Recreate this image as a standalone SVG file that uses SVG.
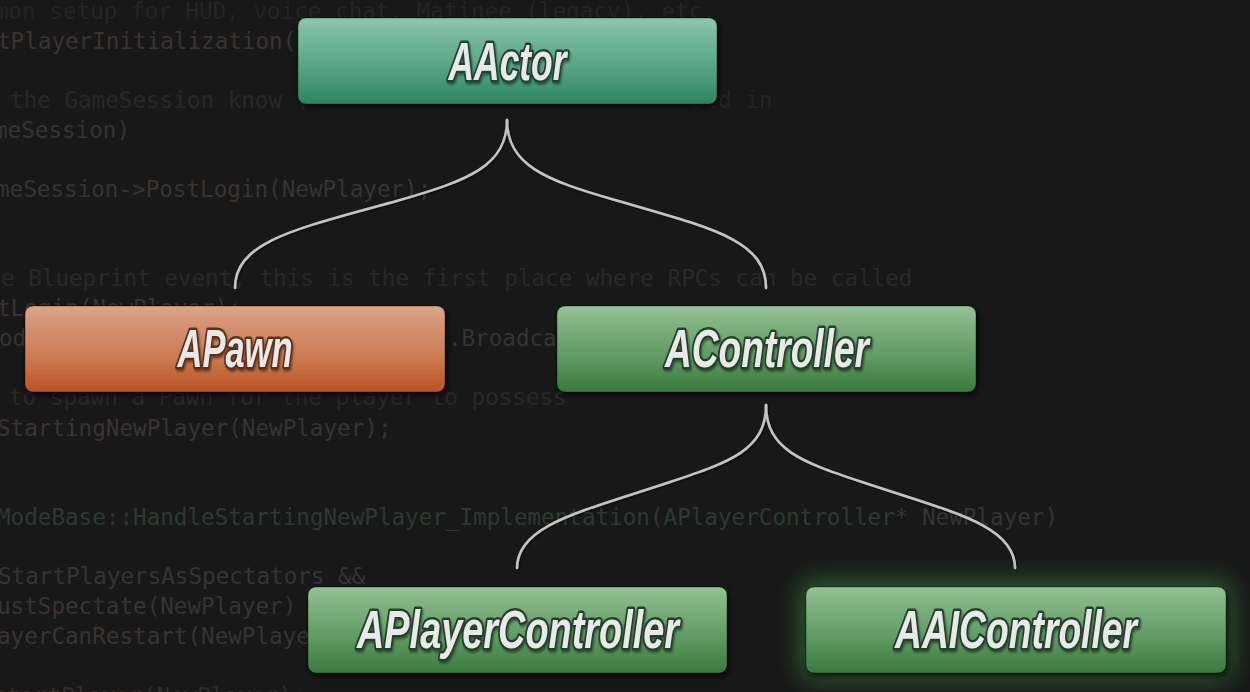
<svg xmlns="http://www.w3.org/2000/svg" width="1250" height="692" viewBox="0 0 1250 692">
  <defs>
    <linearGradient id="gTeal" x1="0" y1="0" x2="0" y2="1">
      <stop offset="0" stop-color="#8cc8ae"/>
      <stop offset="0.15" stop-color="#7dbca1"/>
      <stop offset="0.6" stop-color="#55a283"/>
      <stop offset="1" stop-color="#2d8460"/>
    </linearGradient>
    <linearGradient id="gOrange" x1="0" y1="0" x2="0" y2="1">
      <stop offset="0" stop-color="#dda587"/>
      <stop offset="0.15" stop-color="#d6987a"/>
      <stop offset="0.6" stop-color="#cc7a52"/>
      <stop offset="1" stop-color="#bb5224"/>
    </linearGradient>
    <linearGradient id="gGreen" x1="0" y1="0" x2="0" y2="1">
      <stop offset="0" stop-color="#94c294"/>
      <stop offset="0.15" stop-color="#86b687"/>
      <stop offset="0.6" stop-color="#5e9a61"/>
      <stop offset="1" stop-color="#3a7a3d"/>
    </linearGradient>
    <filter id="boxShadow" x="-10%" y="-20%" width="120%" height="150%">
      <feDropShadow dx="2" dy="3" stdDeviation="3" flood-color="#000" flood-opacity="0.75"/>
    </filter>
    <filter id="txtShadow" x="-10%" y="-20%" width="120%" height="150%">
      <feDropShadow dx="1" dy="2" stdDeviation="1" flood-color="#000" flood-opacity="0.45"/>
    </filter>
    <filter id="glow" x="-20%" y="-60%" width="140%" height="220%">
      <feGaussianBlur stdDeviation="12"/>
    </filter>
    <filter id="lineShadow" x="-10%" y="-10%" width="120%" height="120%">
      <feDropShadow dx="1" dy="1" stdDeviation="1" flood-color="#000" flood-opacity="0.6"/>
    </filter>
  </defs>
  <style>
    .code { font-family: "DejaVu Sans Mono", "Liberation Mono", monospace; font-size: 22.6px; white-space: pre; }
    .cm { fill: #282828; }
    .cd { fill: #343434; }
    .fn { fill: #3a3330; }
    .ty { fill: #2c3a31; }
    .box { stroke: rgba(0,0,0,0.35); stroke-width: 1; filter: url(#boxShadow); }
    .lbl { font-family: "Liberation Sans", Arial, sans-serif; font-weight: bold; font-style: italic; font-size: 54px; text-anchor: middle; fill: #e9e9e9; stroke-width: 5; stroke-linejoin: round; paint-order: stroke; filter: url(#txtShadow); }
    .lg { stroke: #24412b; }
    .lt { stroke: #1f4436; }
    .lo { stroke: #5e2e1a; }
    .conn { fill: none; stroke: #c4c4c4; stroke-width: 2.6; stroke-linecap: round; filter: url(#lineShadow); }
  </style>

  <rect x="0" y="0" width="1250" height="692" fill="#181818"/>

  <g id="background-code" class="code">
    <text x="-5" y="19" class="cm" opacity="0.8">mon setup for HUD, voice chat, Matinee (legacy), etc.</text>
    <text x="-3" y="49" class="cd"><tspan class="fn">tPlayerInitialization</tspan>(NewPlayer);</text>
    <text x="10" y="108" class="cm">the GameSession know (</text>
    <text x="691" y="108" class="cm" opacity="0.8">sed in</text>
    <text x="-6" y="138" class="cd">meSession)</text>
    <text x="-4" y="197" class="cd">meSession-&gt;<tspan class="fn">PostLogin</tspan>(NewPlayer);</text>
    <text x="1" y="286" class="cm">e Blueprint event, this is the first place where RPCs can be called</text>
    <text x="-3" y="316" class="cd"><tspan class="fn">tLogin</tspan>(NewPlayer);</text>
    <text x="-1" y="346" class="cd">odeEvents::GameModePostLoginEvent.Broadcast(this, NewPlayer);</text>
    <text x="9" y="405" class="cm">to spawn a Pawn for the player to possess</text>
    <text x="-3" y="436" class="cd"><tspan class="fn">StartingNewPlayer</tspan>(NewPlayer);</text>
    <text x="-3" y="525" class="cd"><tspan class="ty">ModeBase</tspan>::<tspan class="ty">HandleStartingNewPlayer_Implementation</tspan>(<tspan class="ty">APlayerController</tspan>* NewPlayer)</text>
    <text x="-2" y="584" class="cd">StartPlayersAsSpectators &amp;&amp;</text>
    <text x="-3" y="614" class="cd"><tspan class="fn">ustSpectate</tspan>(NewPlayer) &amp;&amp;</text>
    <text x="-3" y="644" class="cd"><tspan class="fn">ayerCanRestart</tspan>(NewPlayer))</text>
    <text x="-34" y="704" class="cd" opacity="0.8"><tspan class="fn">RestartPlayer</tspan>(NewPlayer);</text>
  </g>

  <g id="connectors">
    <path class="conn" d="M507,120 C507,165 470,180 400,200 C300,228 235,240 235,288"/>
    <path class="conn" d="M507,120 C507,165 545,180 615,200 C712,228 766,240 766,288"/>
    <path class="conn" d="M766,405 C766,450 730,462 670,482 C580,512 517,525 517,568"/>
    <path class="conn" d="M766,405 C766,450 802,462 862,482 C952,512 1015,525 1015,568"/>
  </g>

  <g id="node-aactor">
    <rect class="box" x="298" y="18" width="419" height="86" rx="8" fill="url(#gTeal)"/>
    <text class="lbl lt" x="507.5" y="80" textLength="118" lengthAdjust="spacingAndGlyphs">AActor</text>
  </g>

  <g id="node-apawn">
    <rect class="box" x="25" y="306" width="420" height="86" rx="8" fill="url(#gOrange)"/>
    <text class="lbl lo" x="235" y="367" textLength="115" lengthAdjust="spacingAndGlyphs">APawn</text>
  </g>

  <g id="node-acontroller">
    <rect class="box" x="557" y="306" width="419" height="86" rx="8" fill="url(#gGreen)"/>
    <text class="lbl lg" x="767" y="367" textLength="204" lengthAdjust="spacingAndGlyphs">AController</text>
  </g>

  <g id="node-aplayercontroller">
    <rect class="box" x="308" y="587" width="419" height="86" rx="8" fill="url(#gGreen)"/>
    <text class="lbl lg" x="518" y="648" textLength="322" lengthAdjust="spacingAndGlyphs">APlayerController</text>
  </g>

  <g id="node-aaicontroller">
    <rect x="800" y="580" width="432" height="100" rx="14" fill="#3f9a48" opacity="0.55" filter="url(#glow)"/>
    <rect class="box" x="806" y="587" width="420" height="86" rx="8" fill="url(#gGreen)"/>
    <text class="lbl lg" x="1016" y="648" textLength="242" lengthAdjust="spacingAndGlyphs">AAIController</text>
  </g>
</svg>
